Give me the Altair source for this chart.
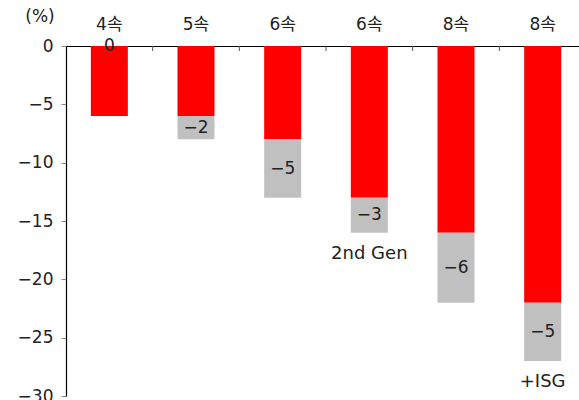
import altair as alt
import pandas as pd

# Transmission generations and their fuel-economy improvement (%)
categories = ["4속", "5속", "6속", "6속", "8속", "8속"]
base_gain = [-6, -6, -8, -13, -16, -22]      # red segment
extra_gain = [0, -2, -5, -3, -6, -5]         # grey segment stacked below
notes = ["", "", "", "2nd Gen", "", "+ISG"]

FONT = "DejaVu Sans, Noto Sans CJK KR"
TEXT = "#222222"

idx = list(range(len(categories)))
df = pd.DataFrame({
    "idx": idx,
    "cat": categories,
    "base": base_gain,
    "total": [b + e for b, e in zip(base_gain, extra_gain)],
    "extra": extra_gain,
    "note": notes,
})
# label sits in the middle of the grey block (at zero when the block is empty)
df["label_y"] = [b + e / 2 if e != 0 else 0 for b, e in zip(base_gain, extra_gain)]

label_expr = "[" + ",".join(f"'{c}'" for c in categories) + "][datum.value]"

x_enc = alt.X(
    "idx:O",
    scale=alt.Scale(range=[0, 520], paddingInner=0, paddingOuter=0),
    axis=alt.Axis(
        orient="top", title=None, labelExpr=label_expr, labelAngle=0,
        ticks=False, tickSize=0, labelPadding=13, labelFontSize=17,
        labelFont=FONT, labelColor=TEXT, domainColor="#000000", domainWidth=1.2,
    ),
)
y_scale = alt.Scale(domain=[-30, 0], nice=False)
y_axis = alt.Axis(
    values=[0, -5, -10, -15, -20, -25, -30], title=None, grid=False,
    tickSize=5, tickColor="#888888", labelPadding=8, labelFontSize=17,
    labelFont=FONT, labelColor=TEXT, domainColor="#000000", domainWidth=1.2,
)

base = alt.Chart(df)

red = base.mark_bar(color="#FF0000", size=37).encode(
    x=x_enc, y=alt.Y("base:Q", scale=y_scale, axis=y_axis), y2=alt.datum(0)
)
grey = base.mark_bar(color="#C0C0C0", size=37).encode(
    x="idx:O", y="total:Q", y2="base:Q"
)
values = base.mark_text(fontSize=17, font=FONT, color=TEXT, baseline="middle").encode(
    x="idx:O", y="label_y:Q", text=alt.Text("extra:Q", format="d")
)
note_text = base.mark_text(fontSize=18, font=FONT, color=TEXT, baseline="middle", dy=21).encode(
    x="idx:O", y="total:Q", text="note:N"
)

boundaries = pd.DataFrame({"idx": idx[1:]})
top_ticks = alt.Chart(boundaries).mark_rule(color="#555555").encode(
    x=alt.X("idx:O", bandPosition=0), y=alt.value(0), y2=alt.value(5)
)

unit = alt.Chart(pd.DataFrame({"t": ["(%)"]})).mark_text(
    fontSize=17, font=FONT, color=TEXT, baseline="middle"
).encode(x=alt.value(-26), y=alt.value(-29), text="t:N")

chart = alt.layer(red, grey, values, note_text, top_ticks, unit).properties(
    width=513, height=350,
    padding={"left": 66, "top": 46, "right": 0, "bottom": 4},
    autosize=alt.AutoSizeParams(type="none"),
    background="white",
).configure_view(stroke=None)

chart.save("out.html", embed_options={"renderer": "svg", "actions": False})
